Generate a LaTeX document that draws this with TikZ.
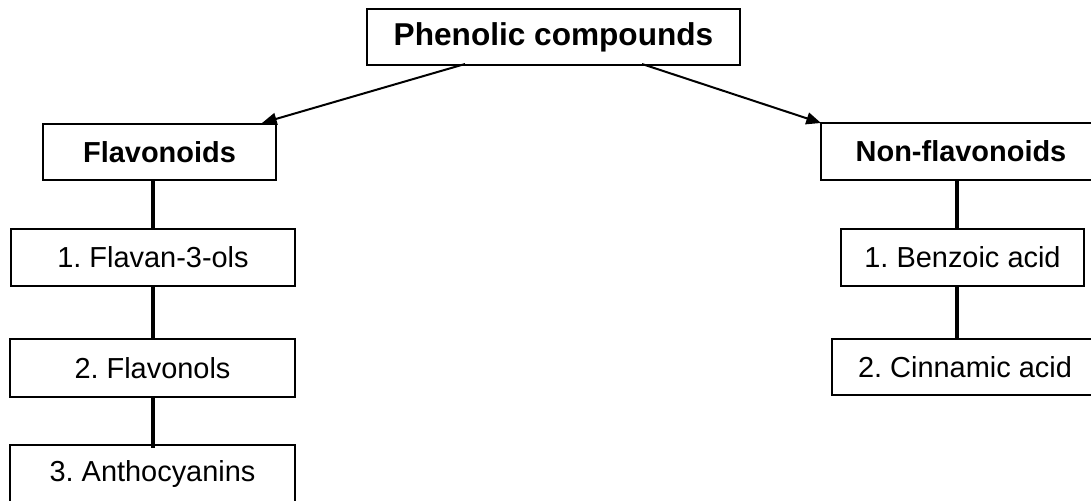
\documentclass[tikz,border=0pt]{standalone}
\usepackage{fontspec}
\setmainfont{Liberation Sans}
\usetikzlibrary{arrows.meta}
\frenchspacing
\begin{document}
\begin{tikzpicture}[x=0.75pt,y=-0.75pt,
  box/.style={draw=black,line width=1.4pt,fill=white,inner sep=0pt,anchor=center,
    font=\fontsize{21.7}{26}\selectfont\frenchspacing},
  boldbox/.style={box,font=\fontsize{21.7}{26}\selectfont\bfseries},
  titlebox/.style={box,font=\fontsize{23.7}{28}\selectfont\bfseries},
  link/.style={line width=2.4pt},
  arr/.style={line width=1.5pt,-{Triangle[length=11pt,width=9pt]}}]
\useasboundingbox (0,0) rectangle (1091,500);
\clip (0,0) rectangle (1091,500);
\node[titlebox,minimum width=279.75pt,minimum height=42pt] (P) at (553.5,37) {Phenolic compounds};
\node[boldbox,minimum width=174.75pt,minimum height=42pt] (flav) at (159.5,152) {Flavonoids};
\node[box,minimum width=213pt,minimum height=42.75pt] (flavan) at (153,257.5) {1. Flavan-3-ols};
\node[box,minimum width=213.75pt,minimum height=43.5pt] (flavonols) at (152.5,368) {2. Flavonols};
\node[box,minimum width=213.75pt,minimum height=43.5pt] (antho) at (152.5,474) {3. Anthocyanins};
\node[boldbox,minimum width=210pt,minimum height=42.75pt] (non) at (961,151.5) {Non-flavonoids};
\node[box,minimum width=182.25pt,minimum height=42.75pt] (benz) at (962.5,257.5) {1. Benzoic acid};
\node[box,minimum width=199.5pt,minimum height=42pt] (cinn) at (965,367) {2. Cinnamic acid};
\coordinate (pl) at (465,64);
\coordinate (pr) at (642,64);
\coordinate (tl) at (262,123);
\coordinate (tr) at (821,123);
\draw[arr] (pl) -- (tl);
\draw[arr] (pr) -- (tr);
\coordinate (lx) at (153,0);
\draw[link] (lx |- flav.south) -- (lx |- flavan.north);
\draw[link] (lx |- flavan.south) -- (lx |- flavonols.north);
\draw[link] (lx |- flavonols.south) -- ([yshift=-3pt]lx |- antho.north);
\coordinate (rx) at (957,0);
\draw[link] (rx |- non.south) -- (rx |- benz.north);
\draw[link] (rx |- benz.south) -- (rx |- cinn.north);
\end{tikzpicture}
\end{document}
